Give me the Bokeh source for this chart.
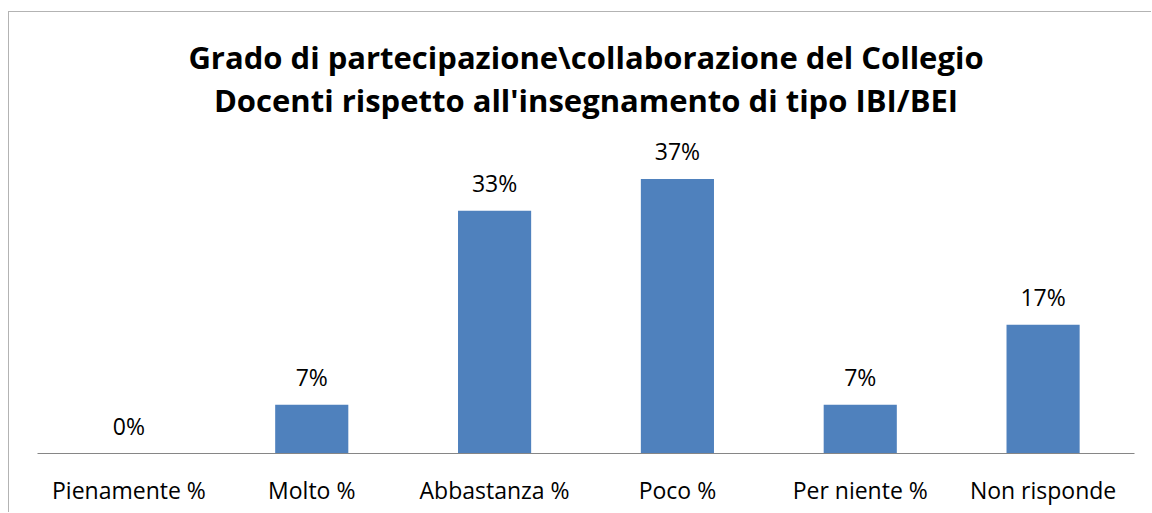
from bokeh.plotting import figure
from bokeh.models import ColumnDataSource, Label, FactorRange, Range1d
from bokeh.core.properties import value
from bokeh.embed import file_html
from bokeh.resources import INLINE

categories = ["Pienamente %", "Molto %", "Abbastanza %", "Poco %", "Per niente %", "Non risponde"]
values = [0.0, 6.6, 32.8, 37.1, 6.6, 17.4]
labels = [f"{round(v)}%" for v in values]
title_lines = ["Grado di partecipazione\\collaborazione del Collegio",
               "Docenti rispetto all'insegnamento di tipo IBI/BEI"]

FONT = "Open Sans"
BAR = "#4F81BD"

src = ColumnDataSource(dict(cat=categories, val=values, lab=labels))

p = figure(width=1143, height=501, output_backend="svg", toolbar_location=None,
           x_range=FactorRange(*categories, range_padding=0),
           y_range=Range1d(0, 59.6),
           min_border_left=28, min_border_right=18, min_border_top=0, min_border_bottom=60)
p.styles = {"border-top": "1px solid #b3b3b3", "border-left": "1px solid #b3b3b3",
            "margin-top": "11px", "margin-left": "8px"}
p.outline_line_color = None
p.background_fill_color = "white"
p.border_fill_color = "white"
p.xgrid.visible = False
p.ygrid.visible = False
p.yaxis.visible = False

p.vbar(x="cat", top="val", width=0.4, source=src, color=BAR, line_color=None)
p.text(x="cat", y="val", text="lab", source=src, y_offset=-28, text_align="center",
       text_baseline="alphabetic", text_font=value(FONT), text_font_size="23px", text_color="black")

xa = p.xaxis[0]
xa.axis_line_color = "#868686"
xa.axis_line_width = 1
xa.major_tick_line_color = None
xa.minor_tick_line_color = None
xa.major_tick_out = 0
xa.major_tick_in = 0
xa.major_label_standoff = 20
xa.major_label_text_font = FONT
xa.major_label_text_font_size = "23px"
xa.major_label_text_color = "black"

for ys, t in zip([397.0, 354.0], title_lines):
    p.add_layout(Label(x=548.5, y=ys, x_units="screen", y_units="screen", text=t,
                       text_align="center", text_baseline="alphabetic",
                       text_font=FONT, text_font_size="31px", text_font_style="bold",
                       text_color="black"))

open("out.html", "w").write(file_html(p, INLINE))
